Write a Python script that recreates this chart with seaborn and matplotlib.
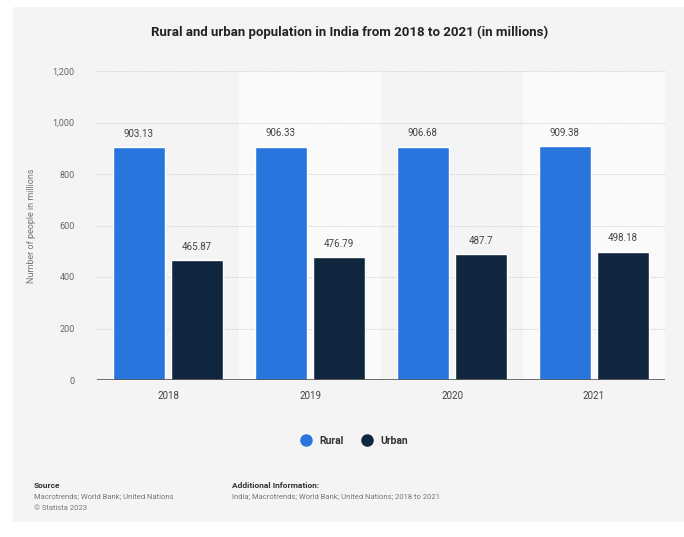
import matplotlib
matplotlib.use("Agg")
import matplotlib.pyplot as plt
import seaborn as sns
import pandas as pd
from matplotlib.patches import Rectangle
from matplotlib.lines import Line2D

years = ["2018", "2019", "2020", "2021"]
rural = [903.13, 906.33, 906.68, 909.38]
urban = [465.87, 476.79, 487.7, 498.18]
rural_labels = ["903.13", "906.33", "906.68", "909.38"]
urban_labels = ["465.87", "476.79", "487.7", "498.18"]
yticks = [0, 200, 400, 600, 800, 1000, 1200]
ytick_labels = ["0", "200", "400", "600", "800", "1,000", "1,200"]

df = pd.DataFrame({
    "Year": years * 2,
    "Population": rural + urban,
    "Type": ["Rural"] * 4 + ["Urban"] * 4,
})

sns.set_theme(style="white")
plt.rcParams["font.family"] = ["Roboto", "DejaVu Sans"]

BG = "#f4f4f4"
fig = plt.figure(figsize=(6.84, 5.37), dpi=100)
fig.patch.set_facecolor("white")
fig.patches.append(Rectangle((13 / 684, 1 - 522 / 537), 1 - 13 / 684, (522 - 7) / 537,
                             transform=fig.transFigure, facecolor=BG, edgecolor="none", zorder=-10))

ax = fig.add_axes([97 / 684, 1 - 380 / 537, (665 - 97) / 684, (380 - 71) / 537])
ax.set_facecolor(BG)

for i in range(len(years)):
    if i % 2 == 1:
        ax.axvspan(i - 0.5, i + 0.5, color="#fafafa", zorder=0, lw=0)

colors = {"Rural": "#2876dd", "Urban": "#10263e"}
sns.barplot(data=df, x="Year", y="Population", hue="Type", palette=colors,
            width=0.82, gap=0.11, ax=ax, zorder=3, legend=False, saturation=1)

for c, labels in zip(ax.containers, [rural_labels, urban_labels]):
    ax.bar_label(c, labels=labels, padding=6, fontsize=7, color="#444444")

ax.set_xlim(-0.5, len(years) - 0.5)
ax.set_ylim(0, 1200)
ax.set_yticks(yticks)
ax.set_yticklabels(ytick_labels)
for y in yticks[1:]:
    ax.axhline(y, color="#cfcfcf", lw=0.7, ls=(0, (1.5, 1.5)), zorder=1)
ax.axhline(0, color="#555555", lw=1.2, zorder=4)
for s in ax.spines.values():
    s.set_visible(False)
ax.tick_params(axis="y", labelsize=6.5, labelcolor="#666666", length=0, pad=16)
ax.tick_params(axis="x", labelsize=7, labelcolor="#444444", length=0, pad=8)
ax.set_xlabel("")
ax.set_ylabel("Number of people in millions", fontsize=6.5, color="#777777", labelpad=12)

fig.text(350 / 684, 1 - 32 / 537, "Rural and urban population in India from 2018 to 2021 (in millions)",
         ha="center", va="center", fontsize=9.5, fontweight="bold", color="#222222")

handles = [Line2D([0], [0], marker="o", ls="", markersize=8, markerfacecolor=colors[k],
                  markeredgecolor=colors[k]) for k in ["Rural", "Urban"]]
leg = fig.legend(handles, ["Rural", "Urban"], loc="center", bbox_to_anchor=(352 / 684, 1 - 441 / 537),
                 ncol=2, frameon=False, fontsize=7.5, handletextpad=0.3, columnspacing=1.2)
for t in leg.get_texts():
    t.set_fontweight("bold")
    t.set_color("#333333")

fig.text(34 / 684, 1 - 486 / 537, "Source", fontsize=6, fontweight="bold", color="#333333", va="center")
fig.text(34 / 684, 1 - 497 / 537, "Macrotrends; World Bank; United Nations", fontsize=5.5, color="#777777", va="center")
fig.text(34 / 684, 1 - 508 / 537, "© Statista 2023", fontsize=5.5, color="#777777", va="center")
fig.text(232 / 684, 1 - 486 / 537, "Additional Information:", fontsize=6, fontweight="bold", color="#333333", va="center")
fig.text(232 / 684, 1 - 497 / 537, "India; Macrotrends; World Bank; United Nations; 2018 to 2021",
         fontsize=5.5, color="#777777", va="center")

fig.savefig("out.png", dpi=100)
